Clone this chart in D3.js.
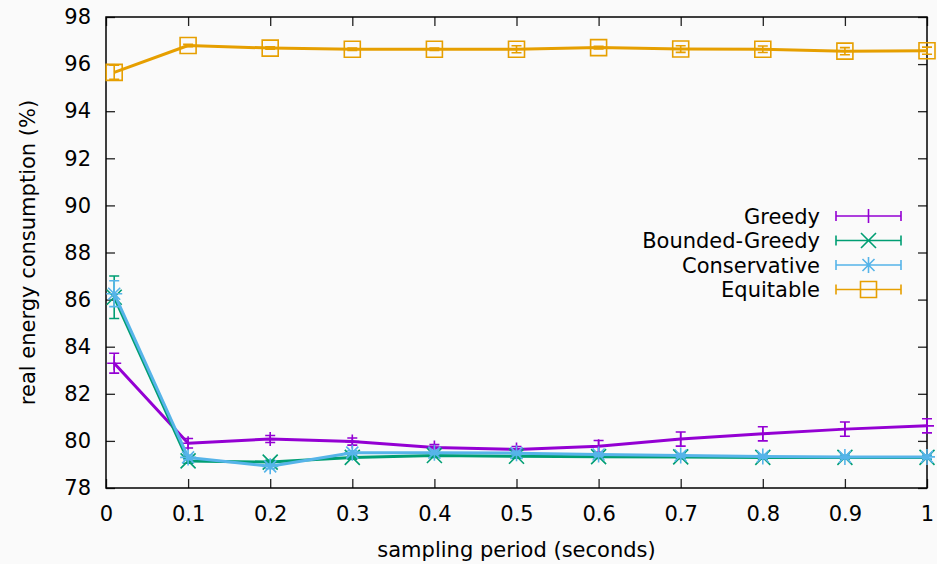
<!DOCTYPE html>
<html>
<head>
<meta charset="utf-8">
<script src="https://cdn.jsdelivr.net/npm/d3@7"></script>
<style>
  html, body { margin: 0; padding: 0; background: #fafafa; }
  svg { display: block; }
  text { font-family: "DejaVu Sans", sans-serif; fill: #000; }
</style>
</head>
<body>
<svg id="chart" width="937" height="564"></svg>
<script>
// Sampling periods (seconds)
const periods = [0.01, 0.1, 0.2, 0.3, 0.4, 0.5, 0.6, 0.7, 0.8, 0.9, 1.0];

// Real energy consumption (%) per scheduling policy, with error half-widths
const greedy      = [83.30, 79.90, 80.08, 79.97, 79.72, 79.64, 79.77, 80.08, 80.30, 80.50, 80.64];
const greedyErr   = [0.42, 0.20, 0.15, 0.15, 0.12, 0.12, 0.25, 0.30, 0.30, 0.30, 0.30];
const bounded     = [86.10, 79.15, 79.10, 79.30, 79.38, 79.35, 79.33, 79.32, 79.30, 79.30, 79.30];
const boundedErr  = [0.90, 0.10, 0.08, 0.08, 0.08, 0.08, 0.08, 0.08, 0.08, 0.08, 0.08];
const conserv     = [86.25, 79.30, 78.92, 79.50, 79.50, 79.48, 79.42, 79.38, 79.34, 79.32, 79.32];
const conservErr  = [0.55, 0.10, 0.10, 0.08, 0.08, 0.08, 0.08, 0.08, 0.08, 0.08, 0.08];
const equitable   = [95.65, 96.79, 96.68, 96.63, 96.63, 96.63, 96.70, 96.64, 96.63, 96.55, 96.57];
const equitErr    = [0.30, 0.05, 0.05, 0.05, 0.05, 0.15, 0.06, 0.14, 0.14, 0.15, 0.15];

const seriesNames = ["Greedy", "Bounded-Greedy", "Conservative", "Equitable"];
const seriesColors = ["#9400d3", "#009e73", "#56b4e9", "#e69f00"];
const seriesMarkers = ["plus", "cross", "star", "square"];

const xTicks = [0, 0.1, 0.2, 0.3, 0.4, 0.5, 0.6, 0.7, 0.8, 0.9, 1];
const yTicks = [78, 80, 82, 84, 86, 88, 90, 92, 94, 96, 98];

const series = [
  { values: greedy, err: greedyErr },
  { values: bounded, err: boundedErr },
  { values: conserv, err: conservErr },
  { values: equitable, err: equitErr }
].map((s, i) => ({ ...s, name: seriesNames[i], color: seriesColors[i], marker: seriesMarkers[i] }));

const svg = d3.select("#chart");
const W = 937, H = 564;
const FS = 21;
const m = { left: 106, right: 10, top: 17, bottom: 76 };
const x0 = m.left, x1 = W - m.right, y0 = H - m.bottom, y1 = m.top;

svg.append("rect").attr("width", W).attr("height", H).attr("fill", "#fafafa");

const x = d3.scaleLinear().domain([0, 1]).range([x0, x1]);
const y = d3.scaleLinear().domain([78, 98]).range([y0, y1]);
const fmtX = d => (d === 0 || d === 1) ? String(d) : d.toFixed(1);

// Axes with inward ticks, mirrored on top and right
const tick = 9;
const gx = svg.append("g").attr("transform", `translate(0,${y0})`)
  .call(d3.axisBottom(x).tickValues(xTicks).tickFormat(fmtX).tickSize(-tick).tickSizeOuter(0).tickPadding(18));
const gxt = svg.append("g").attr("transform", `translate(0,${y1})`)
  .call(d3.axisTop(x).tickValues(xTicks).tickFormat("").tickSize(-tick).tickSizeOuter(0));
const gy = svg.append("g").attr("transform", `translate(${x0},0)`)
  .call(d3.axisLeft(y).tickValues(yTicks).tickSize(-tick).tickSizeOuter(0).tickPadding(15));
const gyr = svg.append("g").attr("transform", `translate(${x1},0)`)
  .call(d3.axisRight(y).tickValues(yTicks).tickFormat("").tickSize(-tick).tickSizeOuter(0));
[gx, gxt, gy, gyr].forEach(g => {
  g.select(".domain").remove();
  g.selectAll(".tick line").attr("stroke", "#222").attr("stroke-width", 1.3);
  g.selectAll(".tick text").attr("font-size", FS).attr("font-family", "DejaVu Sans, sans-serif").attr("fill", "#000");
});

svg.append("rect").attr("x", x0).attr("y", y1).attr("width", x1 - x0).attr("height", y0 - y1)
  .attr("fill", "none").attr("stroke", "#000").attr("stroke-width", 1.5);

// Axis titles
svg.append("text").attr("x", (x0 + x1) / 2).attr("y", 557).attr("text-anchor", "middle")
  .attr("font-size", FS).text("sampling period (seconds)");
svg.append("text").attr("transform", `translate(35,${(y0 + y1) / 2}) rotate(-90)`)
  .attr("text-anchor", "middle").attr("font-size", FS).text("real energy consumption (%)");

function markerPath(type, cx, cy) {
  const p = d3.path();
  if (type === "plus" || type === "star") {
    const r = type === "plus" ? 7 : 8;
    p.moveTo(cx - r, cy); p.lineTo(cx + r, cy);
    p.moveTo(cx, cy - r); p.lineTo(cx, cy + r);
  }
  if (type === "cross" || type === "star") {
    const r = type === "cross" ? 7.5 : 6;
    p.moveTo(cx - r, cy - r); p.lineTo(cx + r, cy + r);
    p.moveTo(cx - r, cy + r); p.lineTo(cx + r, cy - r);
  }
  if (type === "square") {
    p.rect(cx - 8, cy - 8, 16, 16);
  }
  return p.toString();
}

const line = d3.line().x(d => x(d[0])).y(d => y(d[1]));

series.forEach(s => {
  const g = svg.append("g");
  const pts = periods.map((p, i) => [p, s.values[i], s.err[i]]);
  // error bars
  const eb = d3.path();
  pts.forEach(([p, v, e]) => {
    const cx = x(p), ya = y(v + e), yb = y(v - e);
    eb.moveTo(cx, ya); eb.lineTo(cx, yb);
    eb.moveTo(cx - 5, ya); eb.lineTo(cx + 5, ya);
    eb.moveTo(cx - 5, yb); eb.lineTo(cx + 5, yb);
  });
  g.append("path").attr("d", eb.toString()).attr("stroke", s.color).attr("stroke-width", 1.6).attr("fill", "none");
  // markers
  g.append("path").attr("d", pts.map(([p, v]) => markerPath(s.marker, x(p), y(v))).join(""))
    .attr("stroke", s.color).attr("stroke-width", 1.6).attr("fill", "none");
  // connecting line
  g.append("path").attr("d", line(pts)).attr("stroke", s.color).attr("stroke-width", 3)
    .attr("fill", "none").attr("stroke-linejoin", "round");
});

// Legend
const legY = [216, 240.5, 265, 289.5];
series.forEach((s, i) => {
  const ly = legY[i];
  svg.append("text").attr("x", 820).attr("y", ly).attr("dy", "0.36em").attr("text-anchor", "end")
    .attr("font-size", FS).text(s.name);
  const lp = d3.path();
  lp.moveTo(836, ly); lp.lineTo(901, ly);
  lp.moveTo(836, ly - 5); lp.lineTo(836, ly + 5);
  lp.moveTo(901, ly - 5); lp.lineTo(901, ly + 5);
  svg.append("path").attr("d", lp.toString() + markerPath(s.marker, 868.5, ly))
    .attr("stroke", s.color).attr("stroke-width", 1.6).attr("fill", "none");
});
</script>
</body>
</html>
